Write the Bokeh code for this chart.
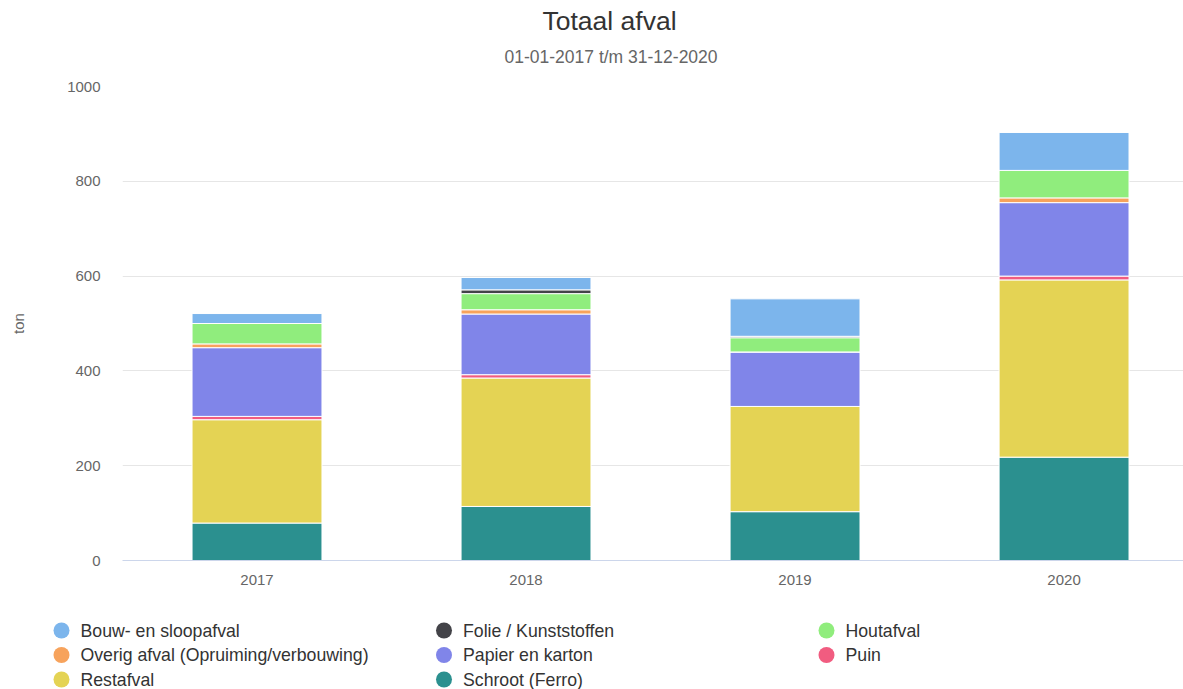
from bokeh.plotting import figure
from bokeh.models import Range1d, FixedTicker, ColumnDataSource, Title
from bokeh.layouts import column
from bokeh.embed import file_html
from bokeh.resources import INLINE
from bokeh.core.properties import value

FONT = "Liberation Sans"

title_text = "Totaal afval"
subtitle_text = "01-01-2017 t/m 31-12-2020"
years = ["2017", "2018", "2019", "2020"]
series = ["Bouw- en sloopafval", "Folie / Kunststoffen", "Houtafval",
          "Overig afval (Opruiming/verbouwing)", "Papier en karton", "Puin",
          "Restafval", "Schroot (Ferro)"]
colors = ["#7cb5ec", "#434348", "#90ed7d", "#f7a35c", "#8085e9", "#f15c80",
          "#e4d354", "#2b908f"]

bouw = [21, 26, 79, 80]
folie = [0, 8, 3, 0]
hout = [43, 34, 30, 58]
overig = [8, 9, 0, 10]
papier = [145, 128, 115, 155]
puin = [7, 7, 0, 8]
restafval = [218, 271, 222, 374]
schroot = [79, 114, 103, 218]

values = [bouw, folie, hout, overig, papier, puin, restafval, schroot]

data = {"x": list(range(len(years)))}
keys = []
for i, v in enumerate(values):
    k = "s%d" % i
    keys.append(k)
    data[k] = v
src = ColumnDataSource(data)

W, H = 1183, 600
FRAME_LEFT, FRAME_TOP, FRAME_BOTTOM = 122, 86, 560

p = figure(width=W, height=H, output_backend="svg", toolbar_location=None,
           x_range=Range1d(-0.5, 3.444), y_range=Range1d(0, 1000),
           min_border_left=FRAME_LEFT, min_border_right=0, min_border_top=FRAME_TOP,
           min_border_bottom=H - FRAME_BOTTOM, title=None)

# stack bottom-up: reverse legend order
order = list(range(len(series)))[::-1]
p.vbar_stack([keys[i] for i in order], x="x", width=0.483, source=src,
             color=[colors[i] for i in order], line_color="white", line_width=1)

p.add_layout(Title(text=subtitle_text, text_font_size="17.5px",
                   text_font=FONT, text_color="#666666", text_font_style="normal",
                   align="left", offset=382, standoff=40), "above")
try:
    main_title = Title(text=title_text, text_font_size="26.5px",
                       text_font=FONT, text_color="#333333", text_font_style="normal",
                       align="left", offset=420, standoff=-22)
except Exception:
    main_title = Title(text=title_text, text_font_size="26.5px",
                       text_font=FONT, text_color="#333333", text_font_style="normal",
                       align="left", offset=420, standoff=0)
p.add_layout(main_title, "above")

p.outline_line_color = None
p.xgrid.grid_line_color = None
p.ygrid.grid_line_color = "#e6e6e6"
p.ygrid.ticker = FixedTicker(ticks=[0, 200, 400, 600, 800, 1000])

p.xaxis.ticker = FixedTicker(ticks=list(range(len(years))))
p.xaxis.major_label_overrides = {i: y for i, y in enumerate(years)}
p.xaxis.axis_line_color = "#ccd6eb"
p.xaxis.major_tick_line_color = None
p.xaxis.minor_tick_line_color = None
p.xaxis.major_label_text_font_size = "15px"
p.xaxis.major_label_text_font = FONT
p.xaxis.major_label_text_color = "#666666"
p.xaxis.major_label_standoff = 8

p.yaxis.ticker = FixedTicker(ticks=[0, 200, 400, 600, 800, 1000])
p.yaxis.axis_line_color = None
p.yaxis.major_tick_line_color = None
p.yaxis.minor_tick_line_color = None
p.yaxis.major_label_text_font_size = "15px"
p.yaxis.major_label_text_font = FONT
p.yaxis.major_label_text_color = "#666666"
p.yaxis.major_label_standoff = 16
p.yaxis.axis_label = "ton"
p.yaxis.axis_label_text_font_size = "15px"
p.yaxis.axis_label_text_font = FONT
p.yaxis.axis_label_text_font_style = "normal"
p.yaxis.axis_label_text_color = "#666666"
p.yaxis.axis_label_standoff = 37

# legend figure
LW, LH = 1183, 89
lg = figure(width=LW, height=LH, output_backend="svg", toolbar_location=None,
            x_range=Range1d(0, LW), y_range=Range1d(LH, 0),
            x_axis_type=None, y_axis_type=None, min_border=0,
            min_border_left=0, min_border_right=0, min_border_top=0, min_border_bottom=0)
try:
    lg.frame_align = False
    p.frame_align = False
except Exception:
    pass
lg.outline_line_color = None
lg.xgrid.visible = False
lg.ygrid.visible = False
ncol = 3
col_w = 382.5
x0 = 61
row_h = 24.5
y0 = 30
lx = [x0 + (i % ncol) * col_w for i in range(len(series))]
ly = [y0 + (i // ncol) * row_h for i in range(len(series))]
lsrc = ColumnDataSource(dict(x=lx, y=ly, tx=[v + 19 for v in lx], name=series, color=colors))
lg.scatter(x="x", y="y", source=lsrc, size=16, marker="circle", color="color", line_color=None)
lg.text(x="tx", y="y", text="name", source=lsrc, text_font=value(FONT),
        text_font_size="17.7px", text_color="#333333", text_baseline="middle")

layout = column(p, lg, spacing=0)
open("out.html", "w").write(file_html(layout, INLINE))
